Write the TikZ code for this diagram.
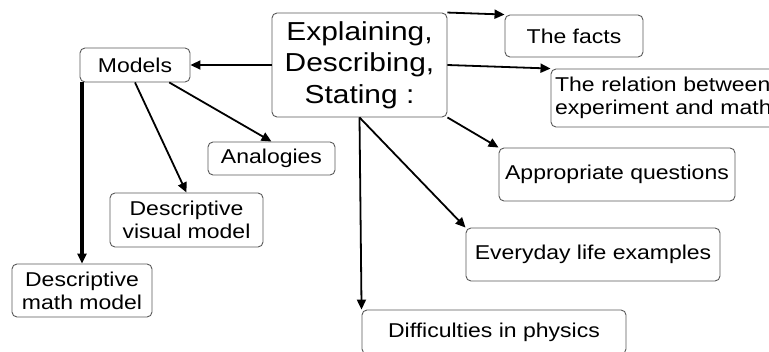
\documentclass[tikz,border=0pt]{standalone}
\usepackage{fontspec}
\setmainfont{Liberation Sans}[FakeStretch=1.15]
\usetikzlibrary{arrows.meta}

\tikzset{
    box/.style={draw=black!65, line width=0.9pt, rounded corners=5pt, inner sep=0pt,
        align=center, font=\fontsize{20}{23}\selectfont},
    bigbox/.style={box, font=\fontsize{26}{31.5}\selectfont},
    arr/.style={line width=1.8pt, -{Triangle[length=10pt,width=9pt]}},
}

\begin{document}
\begin{tikzpicture}[x=1pt, y=-1pt]

    % Picture frame (pixel grid of the reference, y downwards)
    \clip (0,0) rectangle (769,352);

    % Central box
    \node[bigbox, minimum width=175pt, minimum height=104pt] (expl) at (359.5,65) {Explaining,\\Describing,\\Stating :};

    % Left branch: models and their kinds
    \node[box, minimum width=110pt, minimum height=34pt] (models) at (135,65) {Models};
    \node[box, minimum width=127pt, minimum height=33pt] (analog) at (271.5,158.5) {Analogies};
    \node[box, minimum width=153pt, minimum height=54pt] (visual) at (186.5,220) {Descriptive\\visual model};
    \node[box, minimum width=140pt, minimum height=53pt] (math) at (82,290.5) {Descriptive\\math model};

    % Right branch, top to bottom
    \node[box, minimum width=138pt, minimum height=42pt] (facts) at (574,36) {The facts};
    \node[box, minimum width=250pt, minimum height=58pt, inner xsep=4pt, text width=242pt, align=left] (relation) at (676,98) {The relation between\\experiment and math};
    \node[box, minimum width=236pt, minimum height=53pt] (quest) at (617,174.5) {Appropriate questions};
    \node[box, minimum width=254pt, minimum height=53pt] (everyday) at (593,254.5) {Everyday life examples};
    \node[box, minimum width=264pt, minimum height=44pt] (diff) at (494,332) {Difficulties in physics};

    % Arrows from the central box
    \draw[arr] (expl.west) -- (models.east);
    \draw[arr] (expl.north east) -- (facts.north west);
    \draw[arr] (expl.east) -- (relation.north west);
    \draw[arr] (expl.south east) -- (quest.north west);
    \draw[arr] (expl.south) -- (everyday.north west);
    \draw[arr] (expl.south) -- (diff.north west);

    % Arrows from the models box
    \draw[arr] (models.-27) -- (analog.north);
    \draw[arr] (models.south) -- (visual.north);
    \draw[arr, line width=3.5pt] (math.north |- models.south) -- (math.north);

\end{tikzpicture}
\end{document}
